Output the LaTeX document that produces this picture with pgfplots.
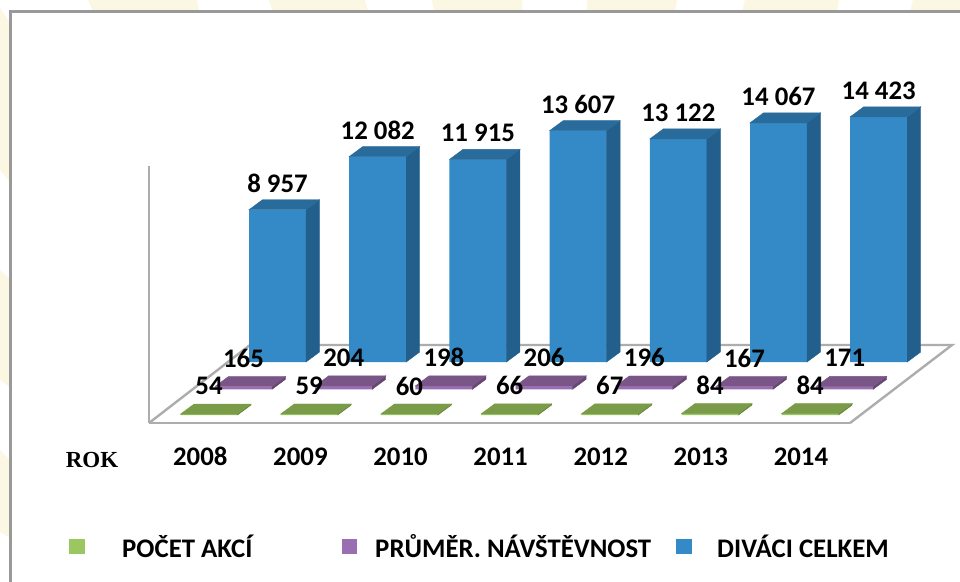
\documentclass[border=0pt]{standalone}
\usepackage{pgfplots}
\usepackage{pgfplotstable}
\pgfplotsset{compat=1.18}
\usepackage{fontspec}
\setmainfont{Carlito}
\newfontfamily\romk{Liberation Serif}
\newcommand{\lab}{\bfseries\fontsize{26.8}{27}\selectfont}
\definecolor{bgY}{HTML}{FBF7E3}
\definecolor{frameC}{HTML}{999999}
\definecolor{floorC}{HTML}{ADADAD}
\definecolor{bF}{HTML}{348AC6}
\definecolor{bS}{HTML}{225F8C}
\definecolor{bT}{HTML}{296C9C}
\definecolor{pF}{HTML}{9A6EB2}
\definecolor{pS}{HTML}{654771}
\definecolor{pT}{HTML}{795588}
\definecolor{gF}{HTML}{9BC762}
\definecolor{gS}{HTML}{668538}
\definecolor{gT}{HTML}{7A9C48}
\pgfplotstableread{
x v
0 8957
1 12082
2 11915
3 13607
4 13122
5 14067
6 14423
}\divaci
\pgfplotstableread{
x v
0 165
1 204
2 198
3 206
4 196
5 167
6 171
}\prumer
\pgfplotstableread{
x v
0 54
1 59
2 60
3 66
4 67
5 84
6 84
}\pocet
\newcommand{\defbox}[3]{%
\pgfdeclareplotmark{#1}{%
\fill[#2] (28.5pt,0pt)--(42pt,10pt)--(42pt,{10-\hpx*1pt})--(28.5pt,{-\hpx*1pt})--cycle;
\fill[#3] (-28.5pt,0pt)--(28.5pt,0pt)--(42pt,10pt)--(-15pt,10pt)--cycle;
}}
\defbox{boxB}{bS}{bT}
\defbox{boxP}{pS}{pT}
\defbox{boxG}{gS}{gT}
\pgfplotsset{
 canvas/.style={at={(0pt,0pt)},anchor=south west,scale only axis,width=960pt,height=581pt,
   axis lines=none,clip=false,
   legend cell align=left},
 lbl/.style={nodes near coords,
   every node near coord/.append style={font=\lab,anchor=center,yshift=#1,text=black,inner sep=0pt,
     /pgf/number format/.cd,fixed,precision=0,1000 sep={\hspace{0.23em}},assume math mode=true}},
 depth/.style={forget plot,only marks,scatter,scatter src=y,mark=#1,
   visualization depends on={\thisrow{v}*0.017 \as \hpx},
   scatter/@pre marker code/.code={\begin{scope}},
   scatter/@post marker code/.code={\end{scope}}},
 leg/.style n args={4}{legend style={at={(#1,{(581-546.5)/581})},anchor=west,draw=none,fill=none,
     inner sep=0pt,font=\lab,nodes={inner sep=0pt}},
   legend image code/.code={\path[draw=none,fill=none] (0pt,0pt)--(#3,0pt);\fill[#2] (0pt,-7.5pt) rectangle (#4,7.5pt);}},
}
\begin{document}
\begin{tikzpicture}[x=1pt,y=1pt]
\path[use as bounding box,fill=white] (0,0) rectangle (960,581);
% background motifs (y flipped from picture rows)
\fill[bgY] (88,581)--(93,570)--(199,570)--(197,581)--cycle;
\fill[bgY] (269,581)--(273,570)--(368,570)--(365,581)--cycle;
\fill[bgY] (432,581)--(434,570)--(522,570)--(522,581)--cycle;
\fill[bgY] (587,581)--(587,570)--(675,570)--(677,581)--cycle;
\fill[bgY] (745,581)--(742,570)--(837,570)--(839,581)--cycle;
\fill[bgY] (913,581)--(910,570)--(960,570)--(960,581)--cycle;
\fill[bgY] (0,573)--(10,558)--(10,399)--(0,411)--cycle;
\fill[bgY] (0,311)--(10,301)--(10,194)--(0,201)--cycle;
\fill[bgY] (0,131)--(10,121)--(10,43)--(0,49)--cycle;
% panel
\fill[white] (10.5,-2)--(10.5,569.5)--(962,569.5)--(962,-2)--cycle;
\draw[frameC,line width=2.6pt] (10.5,-2)--(10.5,569.5)--(962,569.5);
% floor
\draw[floorC,line width=2.4pt,line join=miter] (149,158)--(250,236)--(952,236)--(850,158);
% value axis: wall, front edge of the floor, years
\begin{axis}[at={(149pt,158pt)},anchor=south west,scale only axis,width=701pt,height=257pt,
  xmin=-0.5125,xmax=6.49,ymin=0,ymax=15118,
  axis x line*=bottom,axis y line*=left,
  axis line style={floorC,line width=2.4pt,-},
  xtick={0,...,6},xticklabels={2008,2009,2010,2011,2012,2013,2014},
  ytick=\empty,major tick length=0pt,
  xticklabel style={font=\lab,anchor=base,yshift=-42pt},
  xlabel={ROK},
  xlabel style={at={(axis description cs:-0.0813,-0.175)},anchor=base,font=\romk\bfseries\fontsize{23}{23}\selectfont},
]
\end{axis}
% DIVÁCI CELKEM
\begin{axis}[canvas,xmin=-2.76946,xmax=6.81138,ymin=-12882.35,ymax=21294.12,leg={0.7042}{bF}{41pt}{16pt}]
\addplot[depth=boxB] table[x=x,y=v] {\divaci};
\addplot[ybar,bar width=57pt,bar shift=0pt,fill=bF,draw=none,lbl=26.5pt] table[x=x,y=v] {\divaci};
\addlegendentry{DIVÁCI CELKEM}
\end{axis}
% PRŮMĚR. NÁVŠTĚVNOST
\begin{axis}[canvas,xmin=-2.43014,xmax=7.15070,ymin=-11276.47,ymax=22900,leg={0.3563}{pF}{33pt}{14.5pt}]
\addplot[depth=boxP] table[x=x,y=v] {\prumer};
\addplot[ybar,bar width=57pt,bar shift=0pt,fill=pF,draw=none,lbl=28.5pt] table[x=x,y=v] {\prumer};
\addlegendentry{PRŮMĚR. NÁVŠTĚVNOST}
\end{axis}
% POČET AKCÍ
\begin{axis}[canvas,xmin=-2.08583,xmax=7.49501,ymin=-9764.7,ymax=24411.76,leg={0.0719}{gF}{53pt}{16pt}]
\addplot[depth=boxG] table[x=x,y=v] {\pocet};
\addplot[ybar,bar width=57pt,bar shift=0pt,fill=gF,draw=none,lbl=28pt] table[x=x,y=v] {\pocet};
\addlegendentry{POČET AKCÍ}
\end{axis}
\end{tikzpicture}
\end{document}
